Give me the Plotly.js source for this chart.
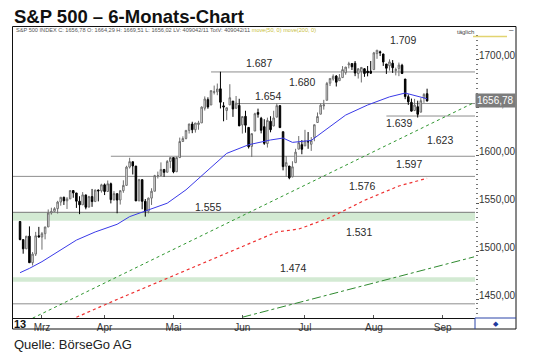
<!DOCTYPE html>
<html><head><meta charset="utf-8">
<script src="https://cdn.plot.ly/plotly-3.0.1.min.js"></script>
<style>html,body{margin:0;padding:0;background:#fff;}#chart{width:540px;height:359px;}</style>
</head><body><div id="chart"></div>
<script>
// ---- data ----
const dates = ['2013-02-20','2013-02-21','2013-02-22','2013-02-25','2013-02-26','2013-02-27','2013-02-28',
'2013-03-01','2013-03-04','2013-03-05','2013-03-06','2013-03-07','2013-03-08','2013-03-11','2013-03-12','2013-03-13','2013-03-14','2013-03-15','2013-03-18','2013-03-19','2013-03-20','2013-03-21','2013-03-22','2013-03-25','2013-03-26','2013-03-27','2013-03-28',
'2013-04-01','2013-04-02','2013-04-03','2013-04-04','2013-04-05','2013-04-08','2013-04-09','2013-04-10','2013-04-11','2013-04-12','2013-04-15','2013-04-16','2013-04-17','2013-04-18','2013-04-19','2013-04-22','2013-04-23','2013-04-24','2013-04-25','2013-04-26','2013-04-29','2013-04-30',
'2013-05-01','2013-05-02','2013-05-03','2013-05-06','2013-05-07','2013-05-08','2013-05-09','2013-05-10','2013-05-13','2013-05-14','2013-05-15','2013-05-16','2013-05-17','2013-05-20','2013-05-21','2013-05-22','2013-05-23','2013-05-24','2013-05-28','2013-05-29','2013-05-30','2013-05-31',
'2013-06-03','2013-06-04','2013-06-05','2013-06-06','2013-06-07','2013-06-10','2013-06-11','2013-06-12','2013-06-13','2013-06-14','2013-06-17','2013-06-18','2013-06-19','2013-06-20','2013-06-21','2013-06-24','2013-06-25','2013-06-26','2013-06-27','2013-06-28',
'2013-07-01','2013-07-02','2013-07-03','2013-07-05','2013-07-08','2013-07-09','2013-07-10','2013-07-11','2013-07-12','2013-07-15','2013-07-16','2013-07-17','2013-07-18','2013-07-19','2013-07-22','2013-07-23','2013-07-24','2013-07-25','2013-07-26','2013-07-29','2013-07-30','2013-07-31',
'2013-08-01','2013-08-02','2013-08-05','2013-08-06','2013-08-07','2013-08-08','2013-08-09','2013-08-12','2013-08-13','2013-08-14','2013-08-15','2013-08-16','2013-08-19','2013-08-20','2013-08-21','2013-08-22','2013-08-23','2013-08-26'];
const futureDates = ['2013-08-27','2013-08-28','2013-08-29','2013-08-30','2013-09-03','2013-09-04','2013-09-05','2013-09-06','2013-09-09','2013-09-10','2013-09-11','2013-09-12','2013-09-13','2013-09-16','2013-09-17'];

const openP = [1530.9,1512.0,1502.4,1515.6,1487.9,1496.9,1516.0,
1514.7,1518.2,1525.2,1539.8,1541.5,1544.3,1551.2,1556.2,1552.5,1554.5,1563.2,1560.7,1552.1,1548.3,1558.7,1545.9,1556.9,1551.7,1563.8,1562.9,
1569.2,1562.2,1570.3,1553.7,1560.0,1553.3,1563.1,1568.6,1587.7,1593.3,1588.8,1552.4,1574.6,1552.0,1541.6,1555.3,1562.5,1578.8,1578.9,1585.2,1582.3,1593.6,
1597.6,1582.8,1597.6,1614.4,1617.6,1626.0,1632.7,1626.7,1632.1,1633.8,1649.1,1658.1,1652.5,1665.7,1666.2,1669.4,1651.6,1646.7,1652.6,1656.6,1649.1,1652.1,
1631.7,1640.7,1629.1,1609.3,1625.3,1644.7,1638.6,1629.9,1612.2,1635.5,1630.6,1639.8,1651.8,1624.6,1588.6,1588.8,1577.5,1592.3,1606.4,1611.1,
1609.8,1614.3,1611.5,1618.7,1634.2,1642.9,1651.6,1657.4,1675.3,1679.6,1682.7,1677.9,1681.1,1686.2,1694.4,1695.7,1696.1,1685.2,1687.3,1690.3,1687.9,1687.8,
1689.4,1706.1,1708.0,1705.8,1695.3,1693.4,1696.1,1688.4,1690.7,1693.9,1679.6,1661.2,1655.3,1646.8,1650.7,1645.0,1659.9,1664.29];
const highP = [1530.9,1512.0,1515.6,1525.8,1499.0,1520.1,1525.3,
1520.0,1525.3,1543.5,1545.3,1545.8,1552.5,1556.3,1556.8,1556.4,1563.3,1563.6,1560.7,1557.3,1561.6,1558.7,1557.7,1564.9,1564.0,1564.1,1570.3,
1570.6,1573.7,1571.5,1562.6,1560.0,1563.1,1573.9,1589.1,1597.4,1593.3,1588.8,1575.4,1574.6,1554.4,1555.9,1565.6,1579.6,1583.0,1592.6,1585.8,1595.0,1597.6,
1597.6,1598.6,1618.5,1619.8,1626.0,1632.8,1635.0,1633.7,1636.0,1651.1,1661.5,1660.5,1667.5,1672.8,1674.9,1687.2,1655.5,1649.8,1674.2,1656.6,1661.9,1659.0,
1640.4,1646.5,1629.3,1622.6,1644.4,1648.7,1640.1,1637.7,1639.3,1640.8,1646.5,1654.2,1652.5,1624.6,1599.2,1588.8,1593.8,1606.8,1620.1,1615.9,
1626.6,1624.3,1619.0,1632.1,1644.7,1654.2,1657.9,1676.6,1680.2,1684.5,1683.7,1684.8,1693.1,1692.1,1697.6,1695.8,1698.4,1690.9,1691.9,1690.9,1693.2,1698.4,
1707.9,1709.7,1709.2,1705.8,1695.3,1700.2,1699.4,1691.5,1696.8,1695.5,1679.6,1663.6,1659.2,1658.9,1657.0,1659.6,1664.9,1669.51];
const lowP = [1511.4,1497.3,1502.4,1487.9,1485.0,1494.9,1514.5,
1501.5,1512.3,1525.2,1538.1,1541.5,1539.2,1547.4,1548.2,1544.0,1554.5,1555.7,1545.1,1538.6,1548.3,1543.6,1545.9,1546.2,1551.7,1551.9,1561.1,
1558.5,1562.2,1549.8,1552.5,1539.5,1548.6,1560.9,1568.6,1586.2,1580.0,1552.3,1552.4,1543.7,1536.0,1539.4,1548.2,1562.5,1575.8,1578.9,1577.6,1582.3,1586.5,
1581.3,1582.8,1597.6,1614.2,1616.6,1622.7,1623.1,1623.7,1626.7,1633.8,1646.7,1648.6,1652.5,1663.5,1662.7,1648.9,1635.5,1636.9,1652.6,1640.1,1648.6,1630.7,
1622.7,1623.6,1607.1,1598.2,1625.3,1639.3,1622.9,1610.9,1608.1,1624.0,1630.3,1639.8,1628.9,1584.3,1577.7,1575.0,1577.1,1592.3,1606.4,1601.1,
1609.8,1606.8,1604.6,1614.7,1634.2,1642.9,1647.7,1657.4,1672.3,1677.9,1671.8,1677.9,1681.1,1684.1,1690.7,1689.0,1682.6,1680.1,1676.0,1681.9,1682.4,1684.9,
1689.4,1700.7,1703.6,1693.3,1684.9,1688.4,1686.0,1683.4,1682.6,1684.8,1658.6,1652.6,1645.8,1646.1,1639.4,1645.0,1654.8,1656.02];
const closeP = [1512.0,1502.4,1515.6,1487.9,1496.9,1516.0,1514.7,
1518.2,1525.2,1539.8,1541.5,1544.3,1551.2,1556.2,1552.5,1554.5,1563.2,1560.7,1552.1,1548.3,1558.7,1545.8,1556.9,1551.7,1563.8,1562.9,1569.2,
1562.2,1570.3,1553.7,1560.0,1553.3,1563.1,1568.6,1587.7,1593.4,1588.9,1552.4,1574.6,1552.0,1541.6,1555.3,1562.5,1578.8,1578.8,1585.2,1582.2,1593.6,1597.6,
1582.7,1597.6,1614.4,1617.5,1626.0,1632.7,1626.7,1633.7,1633.8,1650.3,1658.8,1650.5,1667.5,1666.3,1669.2,1655.4,1650.5,1649.6,1660.1,1648.4,1654.4,1630.7,
1640.4,1631.4,1608.9,1622.6,1643.4,1642.8,1626.1,1612.5,1636.4,1626.7,1639.0,1651.8,1628.9,1588.2,1592.4,1576.5,1588.0,1603.3,1613.2,1606.3,
1615.0,1614.1,1615.4,1631.9,1640.5,1652.3,1652.6,1675.0,1680.2,1682.5,1676.3,1680.9,1689.4,1692.1,1695.5,1692.4,1685.9,1690.3,1691.7,1685.3,1686.0,1685.7,
1706.9,1709.7,1707.1,1697.4,1690.9,1697.5,1691.4,1689.5,1694.2,1685.4,1661.3,1655.8,1646.1,1652.4,1642.8,1657.0,1663.5,1656.78];

const sma50Dates = ['2013-02-20','2013-02-25','2013-03-01','2013-03-12','2013-03-18','2013-03-26','2013-04-05','2013-04-11','2013-04-18','2013-04-29','2013-05-07','2013-05-16','2013-05-24','2013-06-05','2013-06-14','2013-06-20','2013-06-25','2013-07-03','2013-07-12','2013-07-19','2013-07-30','2013-08-08','2013-08-15','2013-08-26'];
const sma50 = [1477.5,1482,1489,1503,1511.5,1520,1528,1536,1541.5,1550,1564,1585,1602,1611,1616,1618,1613.5,1615.5,1629.5,1642,1652.5,1661,1665,1659];
const sma200Dates = ['2013-03-18','2013-04-08','2013-04-30','2013-05-17','2013-06-03','2013-06-18','2013-06-27','2013-07-12','2013-07-29','2013-08-13','2013-08-26'];
const sma200 = [1431,1451,1473,1491,1505,1520,1523,1535,1553,1568,1576];
const trendUpDates = ['2013-02-26','2013-09-17'];
const trendUp = [1430, 1655];
const trendLowDates = ['2013-06-03','2013-09-17'];
const trendLow = [1431, 1494];
const levelValues = [1687, 1654, 1641, 1599, 1578, 1540.5, 1445];
const levelFrom = ['2013-05-17','2013-05-30','2013-08-07','2013-04-03','','',''];
const bandLow = [1531.7, 1468];
const bandHigh = [1540.5, 1472.7];
const levelLabels = ['1.709','1.687','1.680','1.654','1.639','1.623','1.597','1.576','1.555','1.531','1.474'];
const monthTickDates = ['2013-03-01','2013-04-01','2013-05-01','2013-06-03','2013-07-01','2013-08-01','2013-09-03'];
const monthTickText = ['Mrz','Apr','Mai','Jun','Jul','Aug','Sep'];

// ---- layout helpers (pixel positions) ----
const W = 540, H = 359;
const PL = 13, PR = 475, PT = 34, PB = 318;
const px2x = p => (p - PL) / (PR - PL);
const px2y = p => (PB - p) / (PB - PT);
const labelPos = [[403,40],[259,63],[302,82],[268,96],[399,123],[440,140],[409,164],[362,186],[208,207],[359,232],[293,268]];

const calendar = dates.concat(futureDates);
const pos = d => calendar.indexOf(d);
const xs = dates.map(pos);
const xRange = [-2.25, 145.3];
const yRange = [1430.2, 1726.6];
const fmt = v => v.toFixed(2).replace('.', ',');
const n = closeP.length - 1;
const FONT = 'Liberation Sans, Arial, sans-serif';

const traces = [
  {type:'scatter', mode:'lines', x: trendUpDates.map(pos), y: trendUp, line:{color:'#2f962f', width:1, dash:'dot'}, hoverinfo:'skip'},
  {type:'scatter', mode:'lines', x: trendLowDates.map(pos), y: trendLow, line:{color:'#2f8a2f', width:1, dash:'dashdot'}, hoverinfo:'skip'},
  {type:'scatter', mode:'lines', x: sma200Dates.map(pos), y: sma200, line:{color:'#ee3030', width:1.2, dash:'dot'}, hoverinfo:'skip'},
  {type:'scatter', mode:'lines', x: sma50Dates.map(pos), y: sma50, line:{color:'#3a3ae8', width:1}, hoverinfo:'skip'},
  {type:'candlestick', x: xs, open: openP, high: highP, low: lowP, close: closeP,
   increasing:{line:{color:'#6e6e6e', width:1}, fillcolor:'#ffffff'},
   decreasing:{line:{color:'#000000', width:1}, fillcolor:'#000000'},
   whiskerwidth:0, hoverinfo:'skip'}
];

const shapes = [];
bandLow.forEach((b,i) => shapes.push({type:'rect', layer:'below', xref:'paper', yref:'y', x0:0, x1:1, y0:b, y1:bandHigh[i], fillcolor:'#d3ead3', line:{width:0}}));
levelValues.forEach((v,i) => {
  const full = !levelFrom[i];
  shapes.push({type:'line', layer:'below', xref: full ? 'paper' : 'x', yref:'y',
    x0: full ? 0 : pos(levelFrom[i]), x1: full ? 1 : xRange[1], y0:v, y1:v,
    line:{color: i === 5 ? '#777777' : '#8e8e8e', width:1}});
});
// frame
shapes.push({type:'rect', xref:'paper', yref:'paper', x0:px2x(12.5), x1:px2x(516), y0:px2y(329), y1:px2y(26.5), line:{color:'#111', width:1}});
shapes.push({type:'line', xref:'paper', yref:'paper', x0:px2x(475), x1:px2x(516), y0:px2y(318), y1:px2y(318), line:{color:'#2a44a8', width:1}});
shapes.push({type:'line', xref:'paper', yref:'paper', x0:px2x(475), x1:px2x(475), y0:px2y(318), y1:px2y(329), line:{color:'#2a44a8', width:1}});
shapes.push({type:'line', xref:'paper', yref:'paper', x0:px2x(473), x1:px2x(507), y0:px2y(36.5), y1:px2y(36.5), line:{color:'#e2d470', width:1.5}});

const annotations = [];
levelLabels.forEach((t,i) => annotations.push({text:t, xref:'paper', yref:'paper', x:px2x(labelPos[i][0]), y:px2y(labelPos[i][1]),
  xanchor:'center', yanchor:'middle', showarrow:false, font:{family:FONT, size:10.5, color:'#2a2a2a'}}));
annotations.push({text:'<b>S&amp;P 500 – 6-Monats-Chart</b>', xref:'paper', yref:'paper', x:px2x(12), y:px2y(16.5), xanchor:'left', yanchor:'middle', showarrow:false, font:{family:FONT, size:18.5, color:'#111'}});
annotations.push({text:'Quelle: BörseGo AG', xref:'paper', yref:'paper', x:px2x(11.5), y:px2y(344), xanchor:'left', yanchor:'middle', showarrow:false, font:{family:FONT, size:13, color:'#222'}});
annotations.push({text:'S&amp;P 500 INDEX C: ' + fmt(closeP[n]) + ' O: ' + fmt(openP[n]) + ' H: ' + fmt(highP[n]) + ' L: ' + fmt(lowP[n]) + ' LV: 409042/11 TotV: 409042/11 <span style="color:#c8c040">move(50, 0) move(200, 0)</span>',
  xref:'paper', yref:'paper', x:px2x(14), y:px2y(30), xanchor:'left', yanchor:'middle', showarrow:false, font:{family:FONT, size:5.6, color:'#555'}});
annotations.push({text:'täglich', xref:'paper', yref:'paper', x:px2x(465), y:px2y(32), xanchor:'center', yanchor:'middle', showarrow:false, font:{family:FONT, size:6, color:'#444'}});
annotations.push({text:'–', xref:'paper', yref:'paper', x:px2x(512), y:px2y(29.5), xanchor:'center', yanchor:'middle', showarrow:false, font:{family:FONT, size:8, color:'#333'}});
annotations.push({text:'<b>13</b>', xref:'paper', yref:'paper', x:px2x(19.5), y:px2y(323.5), xanchor:'center', yanchor:'middle', showarrow:false, font:{family:FONT, size:11, color:'#111'}});
annotations.push({text:'◆', xref:'paper', yref:'paper', x:px2x(495.5), y:px2y(323.5), xanchor:'center', yanchor:'middle', showarrow:false, font:{family:FONT, size:7, color:'#1f3a9e'}});
annotations.push({text:fmt(closeP[n]), xref:'paper', yref:'y', x:1, y:closeP[n], xanchor:'left', yanchor:'middle', showarrow:false,
  bgcolor:'#7c7c7c', borderpad:1, font:{family:FONT, size:10, color:'#ffffff'}});

const layout = {
  width:W, height:H, margin:{l:PL, r:W-PR, t:PT, b:H-PB, pad:0},
  paper_bgcolor:'#ffffff', plot_bgcolor:'#ffffff', showlegend:false, separators:',.',
  font:{family:FONT, size:10, color:'#333'},
  xaxis:{type:'linear', range:xRange, tickmode:'array', tickvals:monthTickDates.map(pos), ticktext:monthTickText,
    ticks:'inside', ticklen:3, tickcolor:'#555', showline:true, linecolor:'#111', linewidth:1,
    showgrid:false, zeroline:false, rangeslider:{visible:false}, fixedrange:true,
    tickfont:{family:FONT, size:10, color:'#3a3a3a'}},
  yaxis:{side:'right', range:yRange, tickmode:'linear', tick0:1450, dtick:50, tickformat:'.2f',
    ticks:'outside', ticklen:3, tickcolor:'#555', showline:false, showgrid:false, zeroline:false,
    ticklabelshift:-4, ticklabelstandoff:-2,
    minor:{dtick:5, ticks:'outside', ticklen:2, tickcolor:'#777', showgrid:false},
    tickfont:{family:FONT, size:10, color:'#333'}},
  shapes:shapes, annotations:annotations
};
Plotly.newPlot('chart', traces, layout, {staticPlot:true, displayModeBar:false});
</script>
</body></html>
